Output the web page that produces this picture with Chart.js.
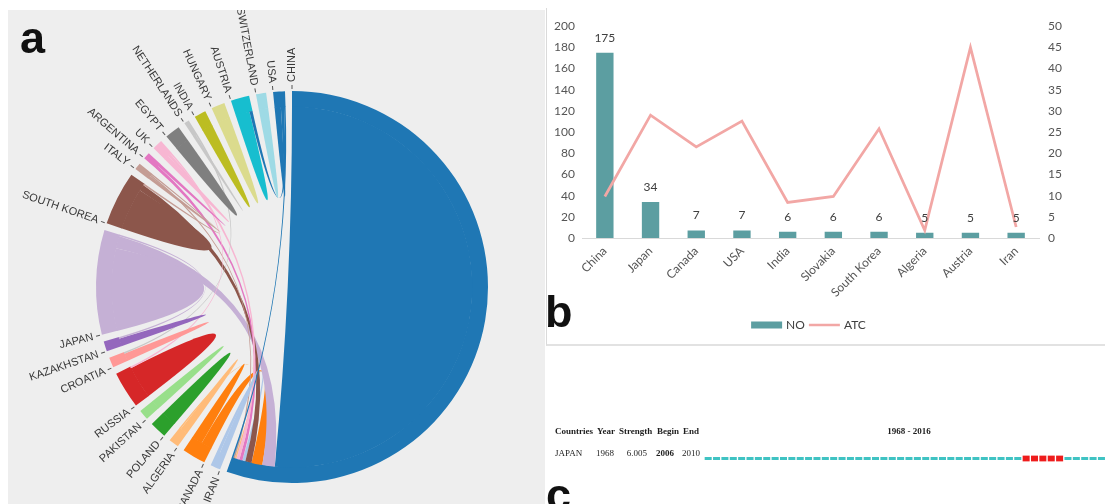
<!DOCTYPE html>
<html>
<head>
<meta charset="utf-8">
<script src="https://cdn.jsdelivr.net/npm/chart.js@4.4.0/dist/chart.umd.min.js"></script>
<style>
  html, body { margin: 0; padding: 0; background: #ffffff; }
  body { width: 1105px; height: 504px; overflow: hidden; position: relative; font-family: 'Liberation Sans', Arial, sans-serif; }
  #panelA { position: absolute; left: 8px; top: 10px; width: 537px; height: 494px; background: #eeeeee; overflow: hidden; }
  #panelB { position: absolute; left: 546px; top: 8px; width: 570px; height: 336px; border-left: 1px solid #dadada; border-bottom: 2px solid #e2e2e2; background: #ffffff; }
  canvas { position: absolute; display: block; }
  .tag { position: absolute; font: bold 45px 'Liberation Sans', Arial, sans-serif; line-height: 45px; color: #111111; }
</style>
</head>
<body>
<div id="panelA"><canvas id="chordChart" width="537" height="494" style="left:0;top:0"></canvas></div>
<div id="panelB"></div>
<canvas id="barChart" width="557" height="334" style="left:548px;top:10px"></canvas>
<canvas id="burstChart" width="566" height="159" style="left:548px;top:345px"></canvas>
<div class="tag" style="left:20px;top:15px">a</div>
<div class="tag" style="left:545px;top:289px">b</div>
<div class="tag" style="left:546px;top:472px">c</div>

<script>
// ---------- Panel a: country collaboration chord diagram ----------
const countries = ['CHINA', 'IRAN', 'CANADA', 'ALGERIA', 'POLAND', 'PAKISTAN', 'RUSSIA', 'CROATIA',
  'KAZAKHSTAN', 'JAPAN', 'SOUTH KOREA', 'ITALY', 'ARGENTINA', 'UK', 'EGYPT', 'NETHERLANDS',
  'INDIA', 'HUNGARY', 'AUSTRIA', 'SWITZERLAND', 'USA'];
const countryColors = ['#1f77b4', '#aec7e8', '#ff7f0e', '#ffbb78', '#2ca02c', '#98df8a', '#d62728', '#ff9896',
  '#9467bd', '#c5b0d5', '#8c564b', '#c49c94', '#e377c2', '#f7b6d2', '#7f7f7f', '#c7c7c7',
  '#bcbd22', '#dbdb8d', '#17becf', '#9edae5', '#1f77b4'];
// link weight of each country with itself
const selfLinks = [371, 4, 7, 5, 10, 6, 21, 5, 5, 53, 27, 2, 2, 3, 9, 2, 7, 8, 9, 6, 4];
// link weight of each country with CHINA
const chinaLinks = [0, 2, 7, 1, 0, 0, 0, 0, 0, 8, 4, 1, 2, 2, 0, 0, 0, 0, 0, 0, 1];
// remaining pairwise links
const otherLinks = [
  ['JAPAN', 'KAZAKHSTAN', 1],
  ['SOUTH KOREA', 'ITALY', 1],
  ['NETHERLANDS', 'CROATIA', 1],
  ['UK', 'RUSSIA', 1],
  ['AUSTRIA', 'USA', 2]
];

// ---------- Panel b: output (NO) and citations (ATC) by country ----------
const barCountries = ['China', 'Japan', 'Canada', 'USA', 'India', 'Slovakia', 'South Korea', 'Algeria', 'Austria', 'Iran'];
const noValues = [175, 34, 7, 7, 6, 6, 6, 5, 5, 5];
const atcValues = [9.8, 29, 21.5, 27.6, 8.4, 9.8, 25.8, 1.8, 45, 2.6];

// ---------- Panel c: citation burst ----------
const burstHeader = ['Countries', 'Year', 'Strength', 'Begin', 'End'];
const burstCountry = ['JAPAN'];
const burstFirstYear = [1968];
const burstStrength = [6.005];
const burstBegin = [2006];
const burstEnd = [2010];
const timelineStart = 1968;
const timelineEnd = 2016;

Chart.defaults.font.family = "'Liberation Sans', Arial, sans-serif";

// ----- chord layout built on the doughnut's own arc elements -----
const n = countries.length;
const matrix = countries.map(() => new Array(n).fill(0));
selfLinks.forEach((v, i) => { matrix[i][i] = v; });
chinaLinks.forEach((v, j) => { if (j > 0 && v > 0) { matrix[0][j] = v; matrix[j][0] = v; } });
otherLinks.forEach(([a, b, v]) => {
  const i = countries.indexOf(a), j = countries.indexOf(b);
  matrix[i][j] = v; matrix[j][i] = v;
});
const groupTotals = matrix.map(r => r.reduce((s, v) => s + v, 0));
const grandTotal = groupTotals.reduce((s, v) => s + v, 0);
const PAD_DEG = 2.05;
const padValue = PAD_DEG * grandTotal / (360 - n * PAD_DEG);
const ringData = [], ringColors = [], ringLabels = [];
groupTotals.forEach((v, i) => {
  ringData.push(v, padValue);
  ringColors.push(countryColors[i], 'rgba(0,0,0,0)');
  ringLabels.push(countries[i], '');
});

function ribbonPath(ctx, cx, cy, r, s, t) {
  ctx.beginPath();
  ctx.moveTo(cx + r * Math.cos(s[0]), cy + r * Math.sin(s[0]));
  ctx.arc(cx, cy, r, s[0], s[1]);
  if (t !== s) {
    ctx.quadraticCurveTo(cx, cy, cx + r * Math.cos(t[0]), cy + r * Math.sin(t[0]));
    ctx.arc(cx, cy, r, t[0], t[1]);
  }
  ctx.quadraticCurveTo(cx, cy, cx + r * Math.cos(s[0]), cy + r * Math.sin(s[0]));
  ctx.closePath();
}

const chordPlugin = {
  id: 'chordRibbons',
  afterDatasetsDraw(chart) {
    const ctx = chart.ctx;
    const meta = chart.getDatasetMeta(0);
    const arcs = countries.map((_, i) => meta.data[2 * i]);
    const cx = arcs[0].x, cy = arcs[0].y;
    const rIn = arcs[0].innerRadius, rOut = arcs[0].outerRadius;
    const rr = rIn + 0.5; // ribbons meet the ring without a seam

    // subgroup angles inside every country arc, largest link first
    const sub = countries.map(() => new Array(n));
    countries.forEach((_, i) => {
      const el = arcs[i];
      const row = matrix[i];
      const k = (el.endAngle - el.startAngle) / groupTotals[i];
      const order = row.map((v, j) => j).filter(j => row[j] > 0).sort((a, b) => row[b] - row[a]);
      let a = el.startAngle;
      order.forEach(j => { sub[i][j] = [a, a + row[j] * k]; a += row[j] * k; });
    });

    ctx.save();
    for (let i = 0; i < n; i++) {
      for (let j = i; j < n; j++) {
        if (matrix[i][j] <= 0) continue;
        const s = sub[i][j];
        const t = i === j ? s : sub[j][i];
        ribbonPath(ctx, cx, cy, rr, s, t);
        ctx.fillStyle = countryColors[j];
        ctx.fill();
      }
    }

    // radial country labels at the start of each arc
    ctx.font = "11px 'Liberation Sans', Arial, sans-serif";
    ctx.fillStyle = '#383838';
    ctx.strokeStyle = '#555555';
    ctx.lineWidth = 1;
    ctx.textBaseline = 'middle';
    countries.forEach((name, i) => {
      const theta = arcs[i].startAngle;
      let fromTop = (theta + Math.PI / 2) % (2 * Math.PI);
      if (fromTop < 0) fromTop += 2 * Math.PI;
      const flipped = fromTop > Math.PI;
      ctx.save();
      ctx.translate(cx, cy);
      ctx.rotate(theta);
      ctx.beginPath();
      ctx.moveTo(rOut + 2, 0);
      ctx.lineTo(rOut + 6, 0);
      ctx.stroke();
      if (flipped) {
        ctx.rotate(Math.PI);
        ctx.textAlign = 'right';
        ctx.fillText(name, -(rOut + 9), 0);
      } else {
        ctx.textAlign = 'left';
        ctx.fillText(name, rOut + 9, 0);
      }
      ctx.restore();
    });
    ctx.restore();
  }
};

new Chart(document.getElementById('chordChart'), {
  type: 'doughnut',
  data: {
    labels: ringLabels,
    datasets: [{ data: ringData, backgroundColor: ringColors, borderWidth: 0, hoverOffset: 0, offset: 0 }]
  },
  options: {
    responsive: false,
    animation: false,
    events: [],
    cutout: 180,
    rotation: 0,
    layout: { padding: { left: 88, top: 81, right: 57, bottom: 21 } },
    plugins: { legend: { display: false }, tooltip: { enabled: false } }
  },
  plugins: [chordPlugin]
});

// ----- panel b -----
const tickFont = { family: 'Lato', size: 12 };
const tickColor = '#555555';

const barValueLabels = {
  id: 'barValueLabels',
  afterDatasetsDraw(chart) {
    const ctx = chart.ctx;
    const meta = chart.getDatasetMeta(0);
    const values = chart.data.datasets[0].data;
    ctx.save();
    ctx.font = "12px Lato";
    ctx.fillStyle = '#404040';
    ctx.textAlign = 'center';
    ctx.textBaseline = 'middle';
    meta.data.forEach((bar, i) => ctx.fillText(String(values[i]), bar.x, bar.y - 15));
    ctx.restore();
  }
};

const legendRow = {
  id: 'legendRow',
  afterDraw(chart) {
    const ctx = chart.ctx;
    const area = chart.chartArea;
    const y = area.bottom + 87;
    ctx.save();
    ctx.font = "12px Lato";
    ctx.textBaseline = 'middle';
    ctx.textAlign = 'left';
    const items = chart.data.datasets.map(ds => ({
      label: ds.label, isBar: ds.type === 'bar',
      color: ds.type === 'bar' ? ds.backgroundColor : ds.borderColor
    }));
    const sym = 31, gapIn = 4, gapOut = 4;
    const widths = items.map(it => sym + gapIn + ctx.measureText(it.label).width);
    const total = widths.reduce((s, w) => s + w, 0) + gapOut * (items.length - 1);
    let x = (area.left + area.right) / 2 - 2 - total / 2;
    items.forEach((it, k) => {
      if (it.isBar) {
        ctx.fillStyle = it.color;
        ctx.fillRect(x, y - 3.5, sym, 7);
      } else {
        ctx.strokeStyle = it.color;
        ctx.lineWidth = 2.5;
        ctx.beginPath();
        ctx.moveTo(x, y);
        ctx.lineTo(x + sym, y);
        ctx.stroke();
      }
      ctx.fillStyle = '#404040';
      ctx.fillText(it.label, x + sym + gapIn, y + 0.5);
      x += widths[k] + gapOut;
    });
    ctx.restore();
  }
};

new Chart(document.getElementById('barChart'), {
  data: {
    labels: barCountries,
    datasets: [
      { type: 'bar', label: 'NO', data: noValues, backgroundColor: '#5c9ea1', yAxisID: 'y', order: 2,
        barPercentage: 0.38, categoryPercentage: 1 },
      { type: 'line', label: 'ATC', data: atcValues, borderColor: '#f2a7a5', borderWidth: 2.75,
        pointRadius: 0, tension: 0, yAxisID: 'y1', order: 1 }
    ]
  },
  options: {
    responsive: false,
    animation: false,
    events: [],
    layout: { padding: { top: 15, left: 0, right: 0, bottom: 36 } },
    plugins: { legend: { display: false }, tooltip: { enabled: false } },
    scales: {
      x: {
        grid: { display: false, drawTicks: false },
        border: { display: true, color: '#d9d9d9', width: 1 },
        ticks: { autoSkip: false, minRotation: 45, maxRotation: 45, color: tickColor, font: tickFont, padding: 6 },
        afterFit(scale) { scale.height = 70; }
      },
      y: {
        position: 'left', min: 0, max: 200,
        grid: { display: false, drawTicks: false },
        border: { display: false },
        ticks: { stepSize: 20, color: tickColor, font: tickFont, padding: 7 },
        afterFit(scale) { scale.width = 34; }
      },
      y1: {
        position: 'right', min: 0, max: 50,
        grid: { display: false, drawTicks: false },
        border: { display: false },
        ticks: { stepSize: 5, color: tickColor, font: tickFont, padding: 9 },
        afterFit(scale) { scale.width = 66; }
      }
    }
  },
  plugins: [barValueLabels, legendRow]
});

// ----- panel c -----
const normalCells = [], burstCells = [];
for (let yr = timelineStart; yr <= timelineEnd; yr++) {
  const cell = { x: [yr, yr + 1], y: burstCountry[0] };
  if (yr >= burstBegin[0] && yr <= burstEnd[0]) burstCells.push(cell); else normalCells.push(cell);
}

const burstTable = {
  id: 'burstTable',
  afterDraw(chart) {
    const ctx = chart.ctx;
    const area = chart.chartArea;
    const rowY = chart.scales.y.getPixelForValue(0);
    const headY = rowY - 26.5;
    const textY = rowY - 4.5;
    ctx.save();
    ctx.fillStyle = '#1e1e1e';
    ctx.textBaseline = 'middle';
    const bold = "bold 9px 'Liberation Serif', 'Times New Roman', serif";
    const plain = "9px 'Liberation Serif', 'Times New Roman', serif";
    const headX = [7, 49, 71, 109, 135];
    ctx.font = bold;
    ctx.textAlign = 'left';
    burstHeader.forEach((h, k) => ctx.fillText(h, headX[k], headY));
    ctx.textAlign = 'center';
    ctx.fillText(timelineStart + ' - ' + timelineEnd, (area.left + area.right) / 2, headY);
    ctx.font = plain;
    ctx.textAlign = 'left';
    ctx.fillText(burstCountry[0], 7, textY);
    ctx.fillText(String(burstFirstYear[0]), 48, textY);
    ctx.textAlign = 'right';
    ctx.fillText(burstStrength[0].toFixed(3), 99, textY);
    ctx.textAlign = 'left';
    ctx.font = bold;
    ctx.fillText(String(burstBegin[0]), 108, textY);
    ctx.font = plain;
    ctx.fillText(String(burstEnd[0]), 134, textY);
    ctx.restore();
  }
};

new Chart(document.getElementById('burstChart'), {
  type: 'bar',
  data: {
    labels: burstCountry,
    datasets: [
      { label: 'quiet', data: normalCells, backgroundColor: '#3fc3c3', borderColor: '#ffffff',
        borderWidth: { left: 1, right: 1, top: 0, bottom: 0 }, borderSkipped: false, barThickness: 3, grouped: false },
      { label: 'burst', data: burstCells, backgroundColor: '#ee1c1c', borderColor: '#ffffff',
        borderWidth: { left: 1, right: 1, top: 0, bottom: 0 }, borderSkipped: false, barThickness: 6, grouped: false }
    ]
  },
  options: {
    indexAxis: 'y',
    responsive: false,
    animation: false,
    events: [],
    layout: { padding: { left: 156, right: 0, top: 105, bottom: 37 } },
    plugins: { legend: { display: false }, tooltip: { enabled: false } },
    scales: {
      x: { type: 'linear', min: timelineStart, max: timelineEnd + 1, display: false },
      y: { type: 'category', display: false }
    }
  },
  plugins: [burstTable]
});
</script>
</body>
</html>
